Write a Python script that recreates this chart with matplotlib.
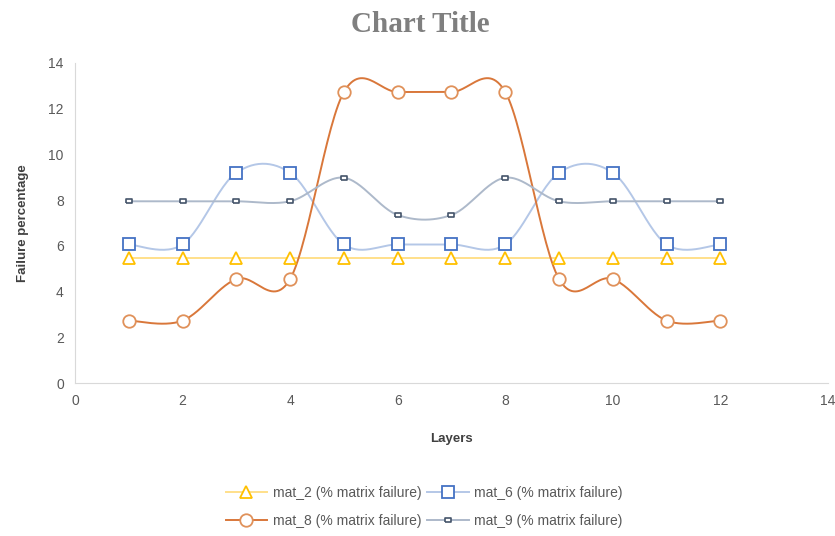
import numpy as np
import matplotlib.pyplot as plt
from matplotlib.lines import Line2D

# data
layers = [1, 2, 3, 4, 5, 6, 7, 8, 9, 10, 11, 12]
mat_2 = [5.45] * 12
mat_6 = [6.06, 6.06, 9.2, 9.2, 6.06, 6.06, 6.06, 6.06, 9.2, 9.2, 6.06, 6.06]
mat_8 = [2.73, 2.73, 4.55, 4.55, 12.73, 12.73, 12.73, 12.73, 4.55, 4.55, 2.73, 2.73]
mat_9 = [7.95, 7.95, 7.95, 7.95, 8.98, 7.35, 7.35, 8.98, 7.95, 7.95, 7.95, 7.95]
labels = ["mat_2 (% matrix failure)", "mat_6 (% matrix failure)",
          "mat_8 (% matrix failure)", "mat_9 (% matrix failure)"]


def smooth(x, y, n=30, t=1 / 6):
    """Excel-like smoothed line: Catmull-Rom style cubic bezier between points."""
    x = np.asarray(x, float)
    y = np.asarray(y, float)
    px = np.concatenate([[x[0]], x, [x[-1]]])
    py = np.concatenate([[y[0]], y, [y[-1]]])
    xs, ys = [], []
    s = np.linspace(0, 1, n)
    for i in range(1, len(px) - 2):
        p0 = np.array([px[i], py[i]])
        p3 = np.array([px[i + 1], py[i + 1]])
        c1 = p0 + (p3 - np.array([px[i - 1], py[i - 1]])) * t
        c2 = p3 - (np.array([px[i + 2], py[i + 2]]) - p0) * t
        b = ((1 - s) ** 3)[:, None] * p0 + (3 * (1 - s) ** 2 * s)[:, None] * c1 \
            + (3 * (1 - s) * s ** 2)[:, None] * c2 + (s ** 3)[:, None] * p3
        xs.append(b[:, 0])
        ys.append(b[:, 1])
    return np.concatenate(xs), np.concatenate(ys)


plt.rcParams["font.family"] = ["Liberation Sans", "DejaVu Sans"]

fig = plt.figure(figsize=(8.35, 5.36), dpi=100)
ax = fig.add_axes([0.0898, 0.2854, 0.9018, 0.5971])

# small flat rectangle, like excel's tiny marker for mat_9
rect = [(-1, -0.45), (1, -0.45), (1, 0.45), (-1, 0.45), (-1, -0.45)]

styles = [
    # line colour, marker, marker edge, marker size, edge width
    (mat_2, "#FFE08A", "^", "#FFC000", 9, 1.3),
    (mat_6, "#B4C7E7", "s", "#4472C4", 9, 1.3),
    (mat_8, "#D9773A", "o", "#E0915A", 9, 1.3),
    (mat_9, "#ADB9CA", rect, "#44546A", 5, 1.2),
]

handles = []
for (vals, lc, mk, me, ms, mw), lab in zip(styles, labels):
    sx, sy = smooth(layers, vals)
    ax.plot(sx, sy, color=lc, lw=1.4, zorder=2)
    ax.plot(layers, vals, ls="none", marker=mk, ms=ms, mfc="white",
            mec=me, mew=mw, zorder=3)
    handles.append(Line2D([], [], color=lc, lw=1.4, marker=mk, ms=ms,
                          mfc="white", mec=me, mew=mw))

ax.set_xlim(0, 14)
ax.set_ylim(0, 14)
ax.set_xticks(range(0, 15, 2))
ax.set_yticks(range(0, 15, 2))
ax.tick_params(length=0, labelsize=10, colors="#595959", pad=8)
for side in ["top", "right"]:
    ax.spines[side].set_visible(False)
for side in ["left", "bottom"]:
    ax.spines[side].set_color("#D9D9D9")

ax.set_xlabel("Layers", fontsize=9.5, fontweight="bold", color="#404040", labelpad=18)
ax.set_ylabel("Failure percentage", fontsize=9.5, fontweight="bold", color="#404040", labelpad=14)

fig.text(0.503, 0.955, "Chart Title", ha="center", va="center", fontsize=21,
         fontweight="bold", color="#7F7F7F", family=["Liberation Serif", "DejaVu Serif"])

# matplotlib fills legend column-wise, reorder so rows read mat_2/mat_6, mat_8/mat_9
order = [0, 2, 1, 3]
fig.legend([handles[i] for i in order], [labels[i] for i in order], loc="center",
           bbox_to_anchor=(0.508, 0.054), ncol=2, frameon=False, fontsize=10,
           labelcolor="#595959", handlelength=3, columnspacing=0.4,
           handletextpad=0.4, labelspacing=1.0)

fig.savefig("out.png", dpi=100)
